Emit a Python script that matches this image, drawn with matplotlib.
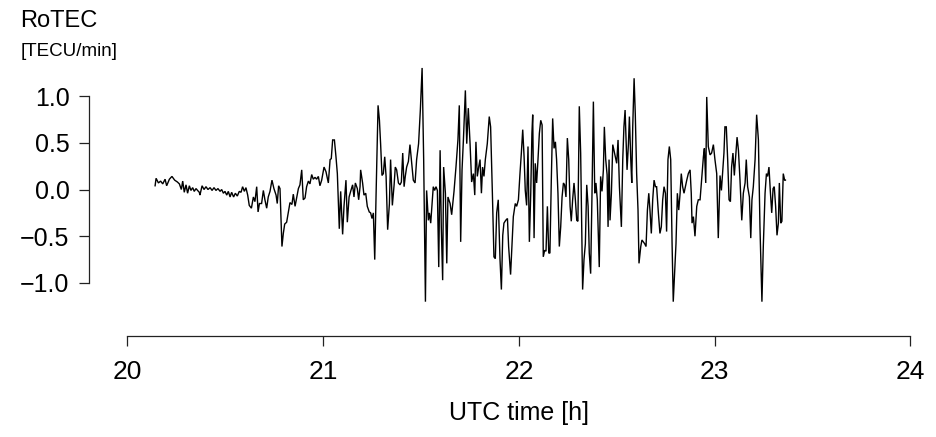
import matplotlib
matplotlib.use("Agg")
import matplotlib.pyplot as plt

plt.rcParams['font.family'] = ['Liberation Sans', 'DejaVu Sans']

# UTC time [h]
time_h = [
    20.141, 20.146, 20.158, 20.169, 20.180, 20.192, 20.200, 20.214, 20.227, 20.241,
    20.255, 20.265, 20.275, 20.282, 20.290, 20.299, 20.307, 20.316, 20.324, 20.333,
    20.341, 20.350, 20.358, 20.367, 20.370, 20.381, 20.391, 20.401, 20.411, 20.422,
    20.432, 20.442, 20.452, 20.462, 20.473, 20.481, 20.490, 20.498, 20.507, 20.515,
    20.524, 20.532, 20.542, 20.551, 20.561, 20.571, 20.580, 20.588, 20.597, 20.605,
    20.614, 20.622, 20.633, 20.643, 20.651, 20.660, 20.667, 20.674,
    20.685, 20.694, 20.702, 20.711, 20.719, 20.728, 20.738, 20.748, 20.759, 20.765,
    20.772, 20.779, 20.789, 20.796, 20.803, 20.813, 20.822, 20.830, 20.840, 20.847,
    20.856, 20.864, 20.873, 20.881, 20.890, 20.898, 20.907, 20.915, 20.924, 20.932,
    20.941, 20.949, 20.958, 20.966, 20.975, 20.983, 20.992, 21.004, 21.014, 21.026,
    21.035, 21.041, 21.048, 21.057, 21.065, 21.072, 21.082, 21.089, 21.099, 21.106,
    21.116, 21.123, 21.132, 21.140, 21.150, 21.157, 21.164, 21.174, 21.181, 21.188,
    21.191, 21.201, 21.208, 21.217, 21.225, 21.235, 21.242, 21.249, 21.256, 21.263,
    21.270, 21.280, 21.287, 21.293, 21.300, 21.307, 21.314, 21.321, 21.329, 21.338,
    21.344, 21.353, 21.362, 21.368, 21.375, 21.384, 21.392, 21.399, 21.406, 21.413,
    21.419, 21.426, 21.435, 21.443, 21.450, 21.460, 21.469, 21.477, 21.487, 21.496,
    21.505, 21.513, 21.522, 21.528, 21.537, 21.542, 21.549, 21.556, 21.562, 21.569,
    21.576, 21.583, 21.590, 21.597, 21.603, 21.610, 21.615, 21.624, 21.631, 21.637,
    21.648, 21.656, 21.668, 21.678, 21.688, 21.695, 21.702, 21.709, 21.716, 21.726,
    21.733, 21.741, 21.750, 21.758, 21.767, 21.774, 21.780, 21.787, 21.794, 21.801,
    21.808, 21.814, 21.821, 21.828, 21.838, 21.848, 21.855, 21.864, 21.872, 21.879,
    21.886, 21.894, 21.903, 21.910, 21.917, 21.923, 21.932, 21.941, 21.947, 21.957,
    21.964, 21.971, 21.981, 21.988, 21.997, 22.005, 22.012, 22.019, 22.026, 22.032,
    22.039, 22.046, 22.053, 22.060, 22.066, 22.070, 22.077, 22.083, 22.090, 22.097,
    22.104, 22.111, 22.118, 22.124, 22.131, 22.138, 22.145, 22.152,
    22.158, 22.165, 22.172, 22.179, 22.186, 22.192, 22.199, 22.206, 22.213, 22.220,
    22.227, 22.233, 22.240, 22.247, 22.254, 22.261, 22.267, 22.274, 22.281, 22.288,
    22.295, 22.301, 22.308, 22.315, 22.322, 22.325, 22.332, 22.339, 22.346, 22.353,
    22.359, 22.366, 22.373, 22.380, 22.387, 22.393, 22.400, 22.410, 22.417, 22.424,
    22.431, 22.436, 22.443, 22.450, 22.455, 22.460, 22.465, 22.472, 22.479, 22.485,
    22.492, 22.499, 22.506, 22.513, 22.519, 22.523, 22.530, 22.536, 22.542, 22.547,
    22.552, 22.559, 22.564, 22.571, 22.576, 22.581, 22.588, 22.594, 22.601, 22.608,
    22.613, 22.622, 22.628, 22.635, 22.642, 22.649, 22.656, 22.663, 22.669, 22.676,
    22.683, 22.690, 22.697, 22.703, 22.712, 22.720,
    22.727, 22.734, 22.741, 22.748, 22.754, 22.761, 22.768, 22.775, 22.782, 22.788,
    22.795, 22.802, 22.809, 22.816, 22.823, 22.829, 22.836, 22.843, 22.850, 22.857,
    22.865, 22.874, 22.880, 22.884, 22.891, 22.899, 22.908, 22.916, 22.925, 22.933,
    22.942, 22.947, 22.954, 22.959, 22.967, 22.976, 22.984, 22.993, 23.001, 23.010,
    23.018, 23.027, 23.034, 23.041, 23.047, 23.052, 23.059, 23.066, 23.073, 23.080,
    23.086, 23.093, 23.100, 23.107, 23.114, 23.121, 23.129, 23.138, 23.146, 23.155,
    23.161, 23.168, 23.177, 23.184, 23.190, 23.197, 23.206, 23.214, 23.223, 23.231,
    23.241, 23.248, 23.257, 23.264, 23.270, 23.277, 23.284, 23.291, 23.298, 23.304,
    23.311, 23.318, 23.325, 23.330, 23.337, 23.343, 23.350, 23.357, 23.361,
]

# RoTEC [TECU/min]
rotec = [
    0.04, 0.12, 0.07, 0.09, 0.06, 0.11, 0.04, 0.11, 0.14, 0.10,
    0.08, 0.06, 0.00, 0.09, -0.03, 0.05, -0.04, 0.04, -0.01, 0.02,
    -0.02, 0.01, -0.01, -0.03, -0.06, 0.04, 0.00, 0.03, 0.00, 0.02,
    -0.01, 0.02, -0.01, 0.01, -0.02, 0.00, -0.04, -0.02, -0.06, -0.02,
    -0.08, -0.03, -0.08, -0.04, -0.07, -0.02, -0.03, 0.03, -0.02, 0.02,
    -0.06, -0.17, -0.20, -0.08, -0.13, 0.03, -0.24, -0.15,
    -0.15, -0.01, -0.11, -0.20, -0.08, -0.02, 0.10, 0.01, -0.06, -0.15,
    0.04, 0.01, -0.61, -0.47, -0.37, -0.35, -0.24, -0.14, -0.16, -0.05,
    -0.18, -0.09, 0.01, 0.05, 0.21, -0.11, -0.09, 0.03, 0.09, 0.06,
    0.16, 0.11, 0.13, 0.11, 0.14, 0.04, 0.10, 0.24, 0.19, 0.07,
    0.32, 0.33, 0.53, 0.53, 0.35, 0.17, -0.42, -0.02, -0.48, -0.18,
    0.10, -0.35, -0.08, -0.02, 0.05, -0.08, 0.07, 0.01, -0.11, 0.03,
    0.21, 0.07, -0.06, -0.04, -0.18, -0.24, -0.25, -0.31, -0.25, -0.75,
    -0.04, 0.90, 0.74, 0.49, 0.15, 0.17, 0.35, 0.14, -0.43, -0.15,
    0.32, -0.17, 0.05, 0.24, 0.21, 0.07, 0.05, 0.08, 0.39, 0.03,
    0.14, 0.24, 0.30, 0.48, 0.32, 0.10, 0.07, 0.32, 0.49, 0.85,
    1.30, 0.32, -1.20, -0.01, -0.33, -0.25, -0.36, -0.15, 0.03, -0.01,
    0.03, -0.01, -0.83, 0.42, -0.40, -0.97, 0.24, -0.04, -0.79, -0.08,
    -0.15, -0.27, -0.02, 0.24, 0.53, 0.90, -0.56, 0.21, 0.53, 1.06,
    0.49, 0.87, 0.49, 0.08, 0.17, -0.06, 0.51, 0.14, 0.24, 0.32,
    -0.04, 0.24, 0.14, 0.32, 0.49, 0.78, 0.67, -0.04, -0.72, -0.74,
    -0.25, -0.11, -0.75, -1.07, -0.49, -0.36, -0.33, -0.31, -0.61, -0.91,
    -0.61, -0.29, -0.15, -0.18, -0.11, 0.17, 0.39, 0.64, 0.35, -0.01,
    -0.17, 0.46, -0.56, -0.04, 0.60, 0.80, -0.52, 0.28, 0.07, 0.32,
    0.60, 0.74, 0.69, -0.72, -0.65, -0.66, -0.18, -0.68,
    -0.68, 0.10, 0.76, 0.44, 0.51, 0.32, -0.04, -0.61, -0.40, -0.08,
    0.07, 0.05, -0.08, 0.55, 0.32, -0.18, -0.34, -0.11, 0.07, -0.11,
    -0.33, -0.34, 0.89, 0.39, -0.61, -1.07, -0.75, -0.58, 0.05, -0.18,
    -0.68, -0.90, -0.04, 0.94, -0.04, 0.07, -0.11, -0.83, 0.14, -0.02,
    0.21, 0.67, 0.32, 0.16, -0.40, 0.32, -0.33, -0.04, 0.48, 0.42,
    0.35, 0.28, 0.53, 0.03, -0.22, -0.40, 0.32, 0.67, 0.85, 0.53,
    0.21, 0.49, 0.78, 0.32, 0.07, 0.67, 1.19, 0.81, 0.17, -0.22,
    -0.79, -0.61, -0.54, -0.56, -0.58, -0.61, -0.22, -0.04, -0.22, -0.47,
    -0.11, 0.10, 0.03, 0.03, -0.25, -0.47,
    -0.40, -0.11, 0.03, -0.04, -0.45, 0.32, 0.46, 0.32, -0.58, -1.20,
    -0.90, -0.58, -0.04, -0.22, -0.04, 0.17, 0.03, -0.04, 0.03, 0.10,
    0.17, 0.21, -0.04, -0.36, -0.29, -0.50, -0.18, -0.11, -0.11, 0.10,
    0.35, 0.44, 0.07, 0.99, 0.46, 0.37, 0.39, 0.48, 0.32, 0.17,
    -0.52, 0.15, -0.01, 0.21, 0.39, 0.67, 0.67, 0.32, -0.11, -0.13,
    0.24, 0.39, 0.15, 0.35, 0.56, 0.42, 0.10, -0.33, -0.04, 0.07,
    0.32, 0.03, -0.08, -0.52, -0.11, 0.03, 0.32, 0.80, 0.53, -0.40,
    -1.20, -0.61, -0.04, 0.17, 0.14, 0.24, -0.02, -0.25, 0.01, 0.03,
    -0.18, -0.49, -0.36, 0.07, -0.36, -0.34, 0.17, 0.10, 0.10,
]

x_ticks = [20, 21, 22, 23, 24]
y_ticks = [-1.0, -0.5, 0.0, 0.5, 1.0]
y_tick_labels = ["\u22121.0", "\u22120.5", "0.0", "0.5", "1.0"]

W, H = 936, 437
fig = plt.figure(figsize=(W / 100, H / 100), dpi=100)

# axes box in pixels (left, right, top, bottom)
L, R, T, B = 89, 930, 60, 336
ax = fig.add_axes([L / W, (H - B) / H, (R - L) / W, (B - T) / H])

# map 20 -> 127.5 px, 24 -> 910.5 px ; 1.0 -> 96 px, -1.0 -> 283 px
pxh = (910.5 - 127.5) / 4.0
ax.set_xlim(20 - (127.5 - L) / pxh, 24 + (R - 910.5) / pxh)
pyu = (283 - 96) / 2.0
ax.set_ylim(-1 - (B - 283) / pyu, 1 + (96 - T) / pyu)

ax.plot(time_h, rotec, color="black", lw=1.0, solid_joinstyle="miter")

for s in ["top", "right"]:
    ax.spines[s].set_visible(False)
ax.spines["left"].set_bounds(-1, 1)
ax.spines["bottom"].set_bounds(20, 24)
for s in ["left", "bottom"]:
    ax.spines[s].set_linewidth(0.9)
    ax.spines[s].set_color("#222222")

ax.set_xticks(x_ticks)
ax.set_xticklabels([str(v) for v in x_ticks])
ax.set_yticks(y_ticks)
ax.set_yticklabels(y_tick_labels)
ax.tick_params(axis="y", length=7, width=0.9, pad=7, labelsize=18, color="#222222")
ax.tick_params(axis="x", length=7, width=0.9, pad=10, labelsize=19, color="#222222")

fig.text(519 / W, 1 - 413 / H, "UTC time [h]", ha="center", va="center", fontsize=18)
fig.text(59 / W, 1 - 21 / H, "RoTEC", ha="center", va="center", fontsize=17)
fig.text(69 / W, 1 - 52 / H, "[TECU/min]", ha="center", va="center", fontsize=13.5)

fig.savefig("out.png", dpi=100)
